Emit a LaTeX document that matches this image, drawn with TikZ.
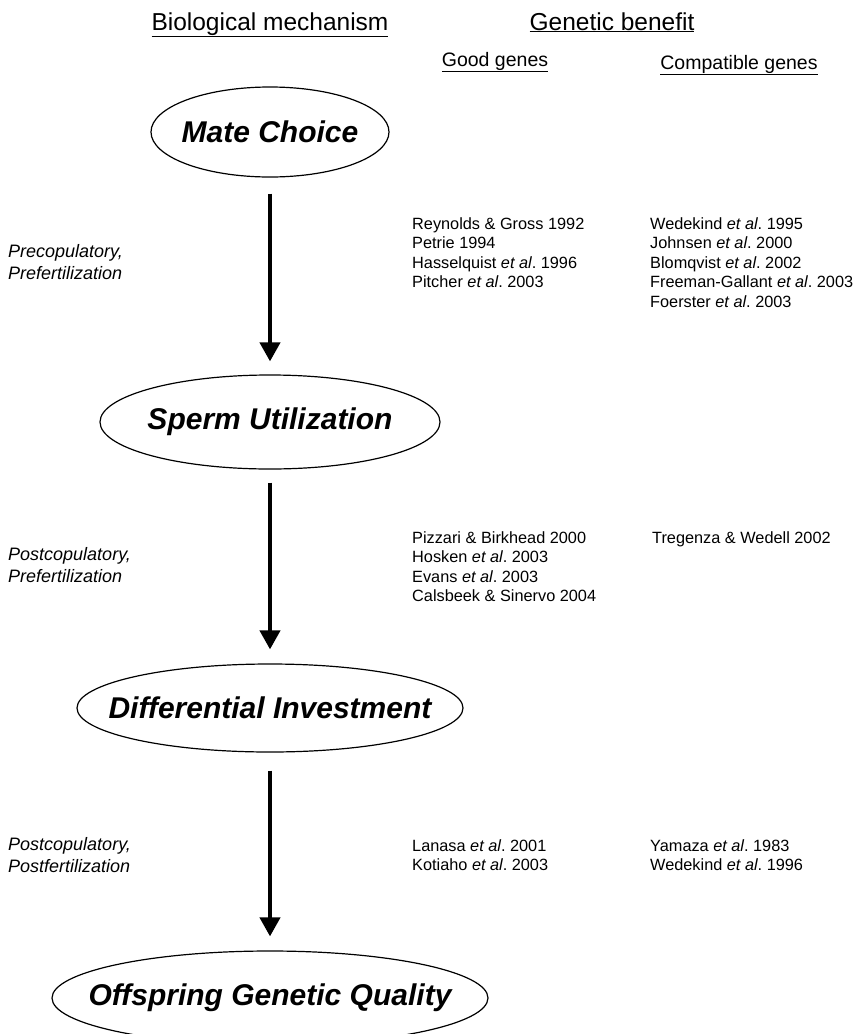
\documentclass[tikz,border=0pt]{standalone}
\usepackage{fontspec}
\setmainfont{Liberation Sans}
\usetikzlibrary{shapes.geometric,arrows.meta}

\tikzset{
	stage/.style={ellipse,draw,line width=1.2pt,inner sep=0pt,font=\fontsize{30}{36}\selectfont\bfseries\itshape},
	flow/.style={line width=4pt,-{Triangle[length=19pt,width=20pt]}},
	head/.style={anchor=base,inner sep=0pt,font=\fontsize{24.5}{29}\selectfont},
	subhead/.style={anchor=base,inner sep=0pt,font=\fontsize{19.5}{23}\selectfont},
	ref/.style={anchor=base west,inner sep=0pt,font=\fontsize{16.3}{19.5}\selectfont},
	phase/.style={anchor=west,inner sep=0pt,align=left,font=\fontsize{18}{22}\selectfont\itshape}
}

\begin{document}
\frenchspacing
\begin{tikzpicture}[x=1pt,y=-1pt]
		\useasboundingbox (0,0) rectangle (853,1034);

		% Titoli
		\node[head] (mech) at (270,30) {\underline{Biological mechanism}};
		\node[head] (benefit) at (612,30) {\underline{Genetic benefit}};
		\node[subhead] (good) at (495,66) {\underline{Good genes}};
		\node[subhead] (comp) at (739,69) {\underline{Compatible genes}};

		% Tappe
		\node[stage,minimum width=238pt,minimum height=90pt] (mate) at (270,132) {\makebox[0pt]{Mate Choice}};
		\node[stage,minimum width=340pt,minimum height=94pt] (sperm) at (270,422) {\makebox[0pt]{Sperm Utilization}};
		\node[stage,minimum width=386pt,minimum height=88pt] (invest) at (270,708) {\makebox[0pt]{Differential Investment}};
		\node[stage,minimum width=436pt,minimum height=94pt] (offspring) at (270,998) {\makebox[0pt]{Offspring Genetic Quality}};

		% Frecce
		\draw[flow,shorten <=16pt,shorten >=13pt] (mate) -- (sperm);
		\draw[flow,shorten <=13pt,shorten >=14pt] (sperm) -- (invest);
		\draw[flow,shorten <=18pt,shorten >=14pt] (invest) -- (offspring);

		% Fasi
		\node[phase] (pre) at (8,262) {Precopulatory,\\Prefertilization};
		\node[phase] (postpre) at (8,565) {Postcopulatory,\\Prefertilization};
		\node[phase] (postpost) at (8,855) {Postcopulatory,\\Postfertilization};

		% Riferimenti
		\foreach \r [count=\i] in {Reynolds \& Gross 1992, Petrie 1994, Hasselquist \textit{et al}. 1996, Pitcher \textit{et al}. 2003}
		\node[ref] (good1-\i) at (412,{229+19.5*(\i-1)}) {\r};
		\foreach \r [count=\i] in {Wedekind \textit{et al}. 1995, Johnsen \textit{et al}. 2000, Blomqvist \textit{et al}. 2002, Freeman-Gallant \textit{et al}. 2003, Foerster \textit{et al}. 2003}
		\node[ref] (comp1-\i) at (650,{229+19.5*(\i-1)}) {\r};

		\foreach \r [count=\i] in {Pizzari \& Birkhead 2000, Hosken \textit{et al}. 2003, Evans \textit{et al}. 2003, Calsbeek \& Sinervo 2004}
		\node[ref] (good2-\i) at (412,{543+19.5*(\i-1)}) {\r};
		\node[ref] (comp2-1) at (652,543) {Tregenza \& Wedell 2002};

		\foreach \r [count=\i] in {Lanasa \textit{et al}. 2001, Kotiaho \textit{et al}. 2003}
		\node[ref] (good3-\i) at (412,{851+19.5*(\i-1)}) {\r};
		\foreach \r [count=\i] in {Yamaza \textit{et al}. 1983, Wedekind \textit{et al}. 1996}
		\node[ref] (comp3-\i) at (650,{851+19.5*(\i-1)}) {\r};
	\end{tikzpicture}
\end{document}
